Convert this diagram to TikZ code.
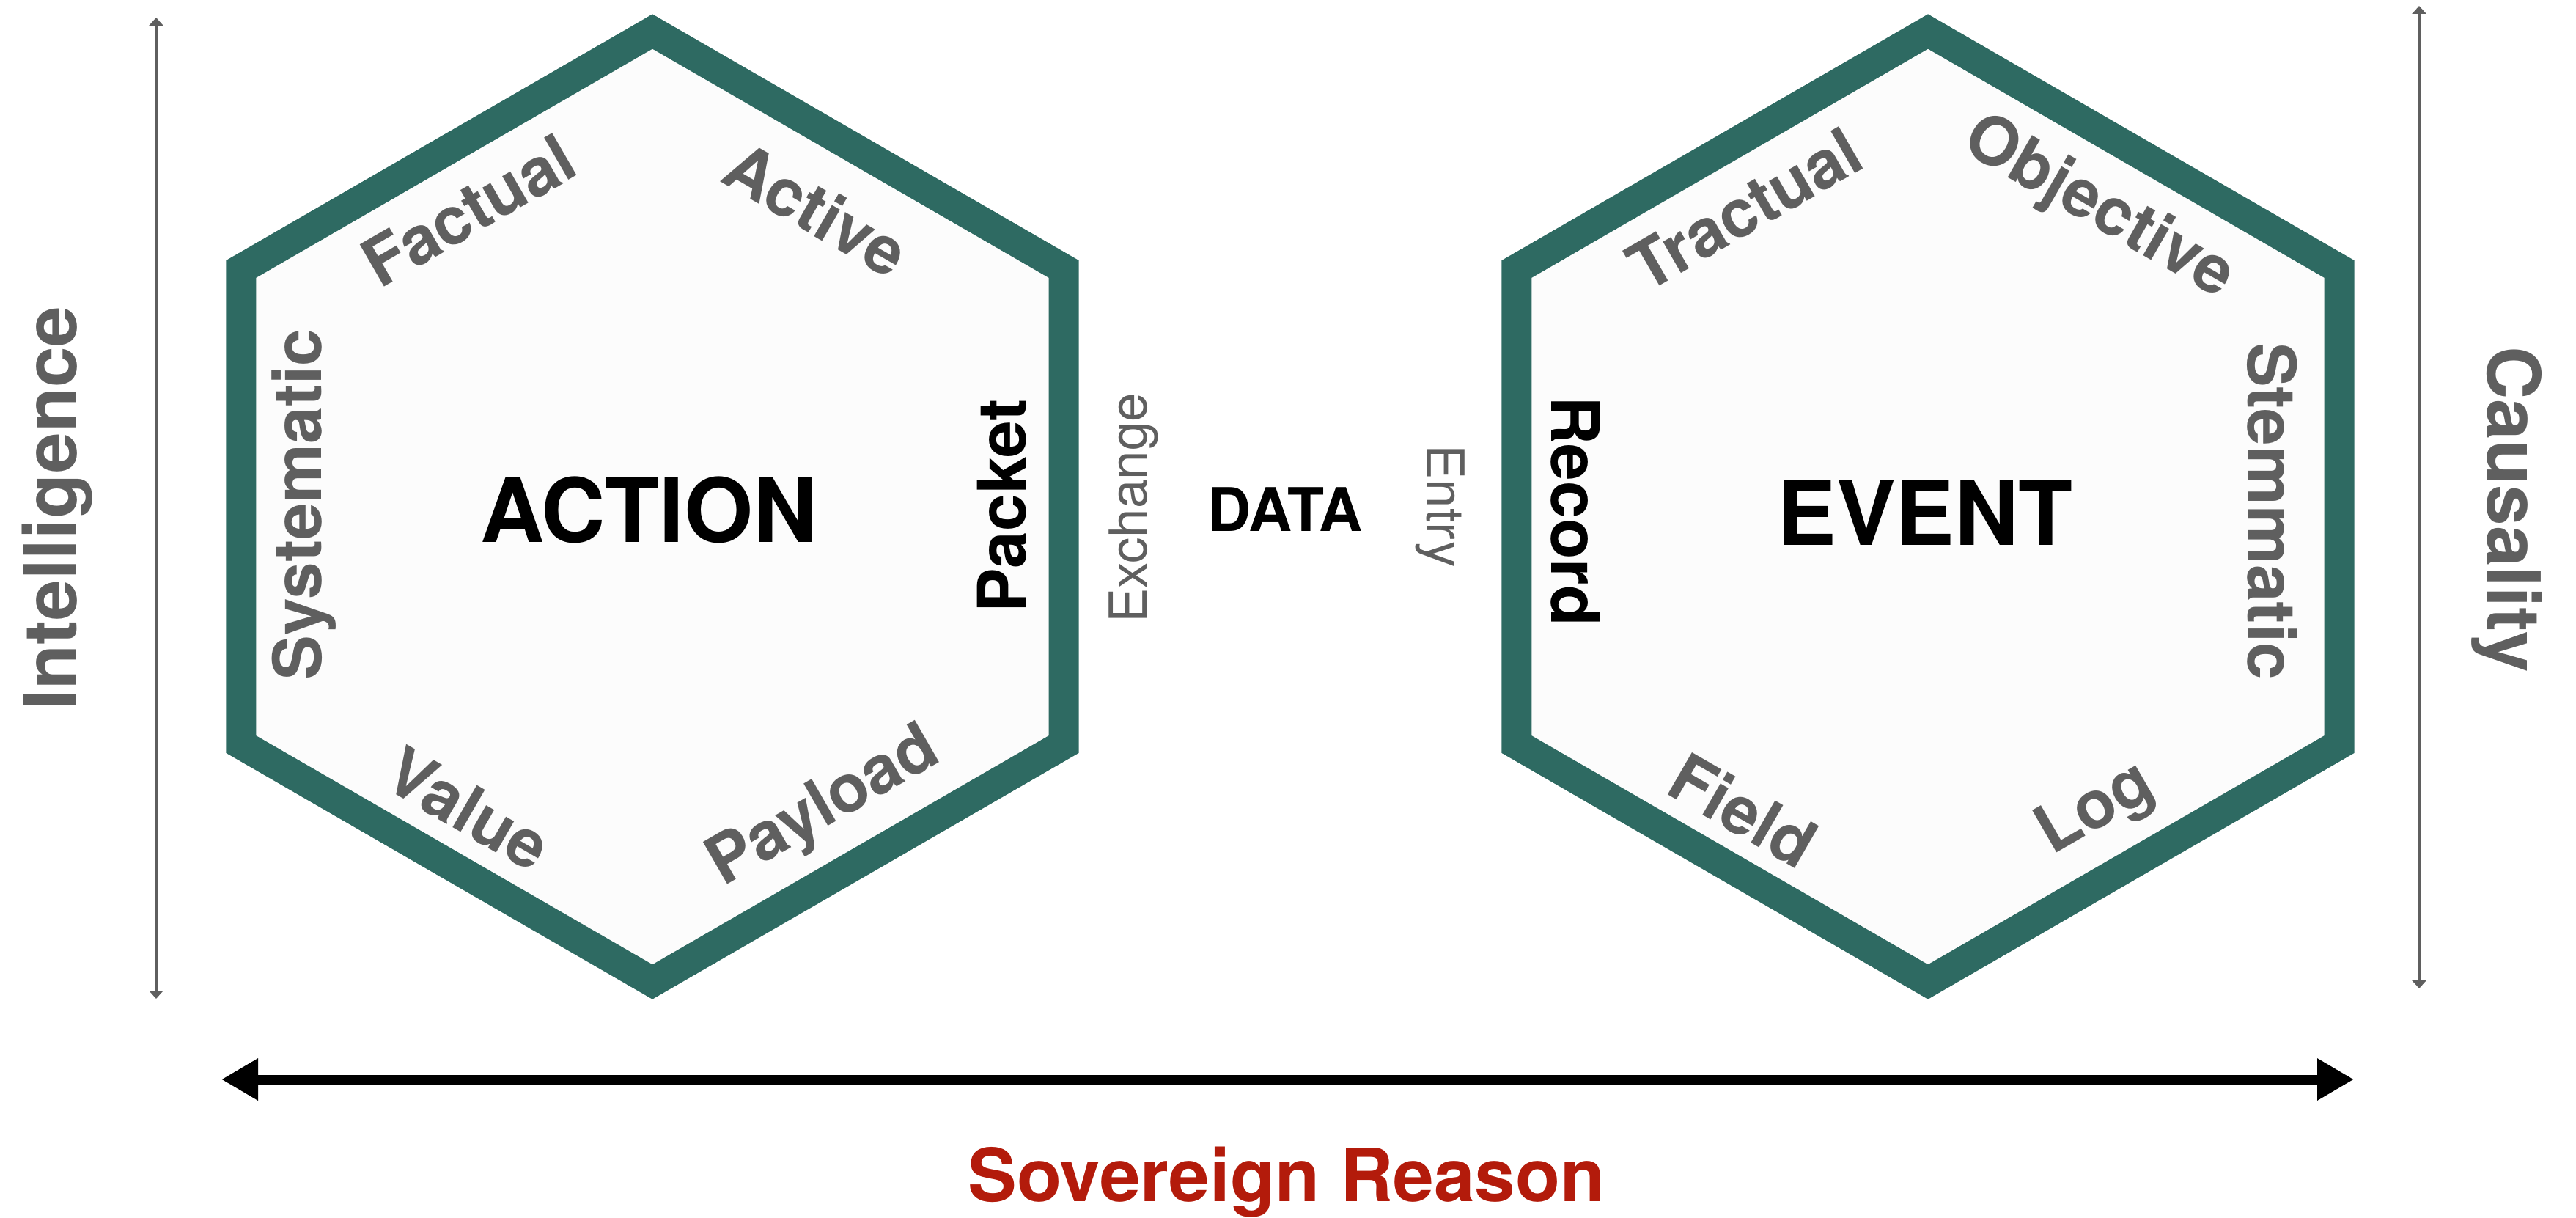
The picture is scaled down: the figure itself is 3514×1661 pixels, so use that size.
\documentclass[tikz,border=0pt]{standalone}
\usepackage{fontspec}
\setmainfont{TeX Gyre Heros}
\usetikzlibrary{arrows.meta}
\definecolor{hexteal}{HTML}{2E6A62}
\definecolor{hexfill}{HTML}{FCFCFC}
\definecolor{labgray}{HTML}{5F5F5F}
\definecolor{sovred}{HTML}{B31B0B}
\begin{document}
\begin{tikzpicture}[x=1pt,y=-1pt,
  hexframe/.style={draw=hexteal, line width=41pt, fill=hexfill, line join=miter},
  edgelab/.style={text=labgray, font=\fontsize{91}{100}\selectfont\bfseries, inner sep=0pt},
  keylab/.style={text=black, font=\fontsize{91}{100}\selectfont\bfseries, inner sep=0pt},
  portlab/.style={text=labgray, font=\fontsize{71}{80}\selectfont, inner sep=0pt},
  titlelab/.style={text=black, font=\fontsize{121}{130}\selectfont\bfseries, inner sep=0pt},
  datalab/.style={text=black, font=\fontsize{82}{90}\selectfont\bfseries, inner sep=0pt},
  axislab/.style={text=labgray, font=\fontsize{100}{110}\selectfont\bfseries, inner sep=0pt},
  thinaxis/.style={draw=labgray, line width=4.5pt, {Triangle[length=11pt,width=19pt]}-{Triangle[length=11pt,width=19pt]}},
  bigaxis/.style={draw=black, line width=13pt, {Triangle[length=50pt,width=54pt]}-{Triangle[length=50pt,width=54pt]}}
]
\useasboundingbox (0,0) rectangle (3514,1661);

% hexagons
\draw[hexframe] (890,43) -- (1451.2,367) -- (1451.2,1015) -- (890,1339) -- (328.8,1015) -- (328.8,367) -- cycle;
\draw[hexframe] (2630,43) -- (3191.2,367) -- (3191.2,1015) -- (2630,1339) -- (2068.8,1015) -- (2068.8,367) -- cycle;

% left hexagon labels
\node[titlelab] (action) at (885,695) {ACTION};
\node[edgelab, rotate=30] (factual) at (639,287) {Factual};
\node[edgelab, rotate=-30] (active) at (1114,285) {Active};
\node[edgelab, rotate=90] (systematic) at (415,688) {Systematic};
\node[keylab, rotate=90] (packet) at (1367,690) {Packet};
\node[edgelab, rotate=-30] (value) at (639,1103) {Value};
\node[edgelab, rotate=30] (payload) at (1125,1103) {Payload};

% right hexagon labels
\node[titlelab] (event) at (2626,699) {EVENT};
\node[edgelab, rotate=30] (tractual) at (2380,285) {Tractual};
\node[edgelab, rotate=-30] (objective) at (2862,285) {Objective};
\node[keylab, rotate=-90] (record) at (2149,697) {Record};
\node[edgelab, rotate=-90] (stemmatic) at (3100,697) {Stemmatic};
\node[edgelab, rotate=-30] (field) at (2378,1105) {Field};
\node[edgelab, rotate=30] (log) at (2860,1105) {Log};

% middle
\node[datalab] (data) at (1753,695) {DATA};
\node[portlab, rotate=90] (exchange) at (1546,693) {Exchange};
\node[portlab, rotate=-90] (entry) at (1965,690) {Entry};

% axes
\coordinate (intTop) at (213,24);
\coordinate (intBot) at (213,1362);
\draw[thinaxis] (intTop) -- (intBot);
\node[axislab, rotate=90] (intelligence) at (78,693) {Intelligence};

\coordinate (cauTop) at (3300,8);
\coordinate (cauBot) at (3300,1348);
\draw[thinaxis] (cauTop) -- (cauBot);
\node[axislab, rotate=-90] (causality) at (3420,695) {Causality};

\coordinate (sovL) at (302,1472);
\coordinate (sovR) at (3211,1472);
\draw[bigaxis] (sovL) -- (sovR);
\node[text=sovred, font=\fontsize{100}{110}\selectfont\bfseries, inner sep=0pt] (sovereign) at (1755,1612) {Sovereign Reason};
\end{tikzpicture}
\end{document}
